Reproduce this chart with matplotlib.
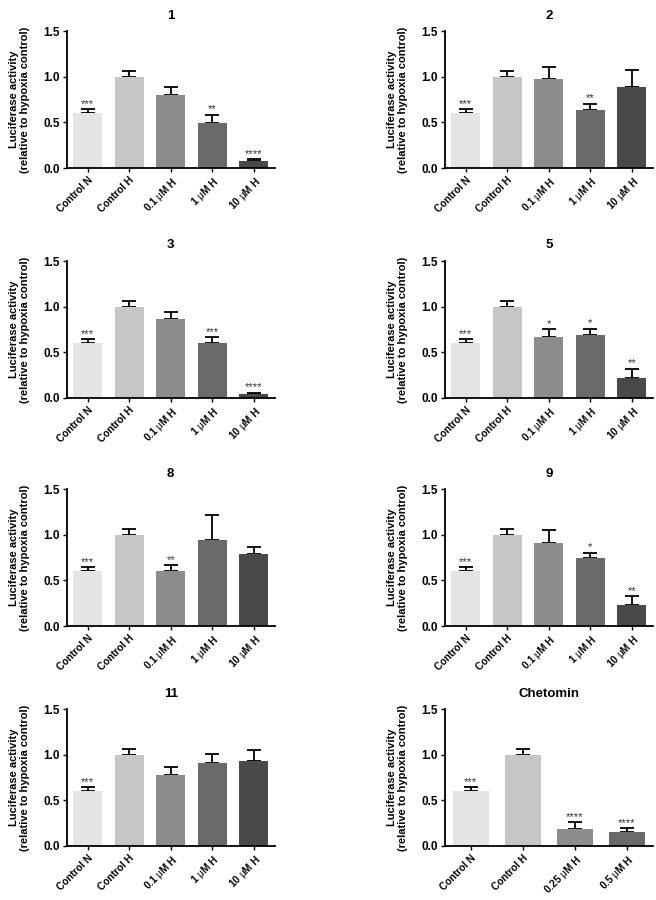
import matplotlib
matplotlib.use("Agg")
import matplotlib.pyplot as plt
import numpy as np

plt.rcParams['font.family'] = ['Liberation Sans', 'DejaVu Sans']
plt.rcParams['mathtext.fontset'] = 'custom'
plt.rcParams['mathtext.rm'] = 'Liberation Sans'
plt.rcParams['mathtext.it'] = 'Liberation Sans'

# ---- data ----
dose_labels = ['Control N', 'Control H', r'0.1 $\mu$M H', r'1 $\mu$M H', r'10 $\mu$M H']
chet_labels = ['Control N', 'Control H', r'0.25 $\mu$M H', r'0.5 $\mu$M H']

titles = ['1', '2', '3', '5', '8', '9', '11', 'Chetomin']

means_1 = [0.60, 1.00, 0.80, 0.49, 0.08]
errs_1 = [0.045, 0.06, 0.085, 0.095, 0.018]
stars_1 = ['***', '', '', '**', '****']

means_2 = [0.60, 1.00, 0.97, 0.64, 0.89]
errs_2 = [0.045, 0.06, 0.135, 0.062, 0.18]
stars_2 = ['***', '', '', '**', '']

means_3 = [0.60, 1.00, 0.87, 0.60, 0.045]
errs_3 = [0.045, 0.06, 0.07, 0.065, 0.01]
stars_3 = ['***', '', '', '***', '****']

means_5 = [0.60, 1.00, 0.67, 0.69, 0.22]
errs_5 = [0.045, 0.06, 0.083, 0.07, 0.098]
stars_5 = ['***', '', '*', '*', '**']

means_8 = [0.60, 1.00, 0.60, 0.94, 0.79]
errs_8 = [0.045, 0.06, 0.065, 0.277, 0.076]
stars_8 = ['***', '', '**', '', '']

means_9 = [0.60, 1.00, 0.91, 0.75, 0.23]
errs_9 = [0.045, 0.06, 0.139, 0.055, 0.098]
stars_9 = ['***', '', '', '*', '**']

means_11 = [0.60, 1.00, 0.78, 0.91, 0.93]
errs_11 = [0.045, 0.06, 0.088, 0.098, 0.12]
stars_11 = ['***', '', '', '', '']

means_chet = [0.60, 1.00, 0.19, 0.15]
errs_chet = [0.045, 0.06, 0.069, 0.044]
stars_chet = ['***', '', '****', '****']

dose_colors = ['#e4e4e4', '#c6c6c6', '#8c8c8c', '#6a6a6a', '#494949']
chet_colors = ['#e4e4e4', '#c6c6c6', '#8c8c8c', '#6a6a6a']

panels = [
    (means_1, errs_1, stars_1, dose_labels, dose_colors),
    (means_2, errs_2, stars_2, dose_labels, dose_colors),
    (means_3, errs_3, stars_3, dose_labels, dose_colors),
    (means_5, errs_5, stars_5, dose_labels, dose_colors),
    (means_8, errs_8, stars_8, dose_labels, dose_colors),
    (means_9, errs_9, stars_9, dose_labels, dose_colors),
    (means_11, errs_11, stars_11, dose_labels, dose_colors),
    (means_chet, errs_chet, stars_chet, chet_labels, chet_colors),
]

fig = plt.figure(figsize=(6.56, 9.0), dpi=100)
fig.set_facecolor('white')

lefts = [0.1017, 0.678]
bottoms = [0.8133, 0.5578, 0.3044, 0.0600]
w, h = 0.317, 0.1522

for i, (m, e, s, labs, cols) in enumerate(panels):
    r, c = divmod(i, 2)
    ax = fig.add_axes([lefts[c], bottoms[r], w, h])
    x = np.arange(len(m))
    ax.bar(x, m, width=0.7, color=cols, edgecolor='none', zorder=2)
    ax.errorbar(x, m, yerr=[np.zeros(len(e)), e], fmt='none', ecolor='black',
                elinewidth=1.3, capsize=5, capthick=1.3, zorder=1)
    for xi, mi, ei, st in zip(x, m, e, s):
        if st:
            ax.text(xi, mi + ei + 0.005, st, ha='center', va='bottom',
                    fontsize=8, color='#333333')
    ax.set_xlim(-0.5, len(m) - 0.5)
    ax.set_ylim(0, 1.5)
    ax.set_yticks([0.0, 0.5, 1.0, 1.5])
    ax.set_yticklabels(['0.0', '0.5', '1.0', '1.5'], fontsize=8.5, fontweight='bold')
    ax.set_xticks(x)
    ax.set_xticklabels(labs, rotation=45, ha='right', rotation_mode='anchor',
                       fontsize=7.3, fontweight='bold')
    ax.tick_params(axis='both', length=3, width=1, pad=2)
    for sp in ['top', 'right']:
        ax.spines[sp].set_visible(False)
    for sp in ['left', 'bottom']:
        ax.spines[sp].set_linewidth(1.3)
    ax.set_title(titles[i], fontsize=9.5, fontweight='bold', pad=9)
    ax.set_ylabel('Luciferase activity\n(relative to hypoxia control)',
                  fontsize=8, fontweight='bold')
    ax.yaxis.set_label_coords(-0.175, 0.5)

fig.savefig('out.png', dpi=100, facecolor='white')
